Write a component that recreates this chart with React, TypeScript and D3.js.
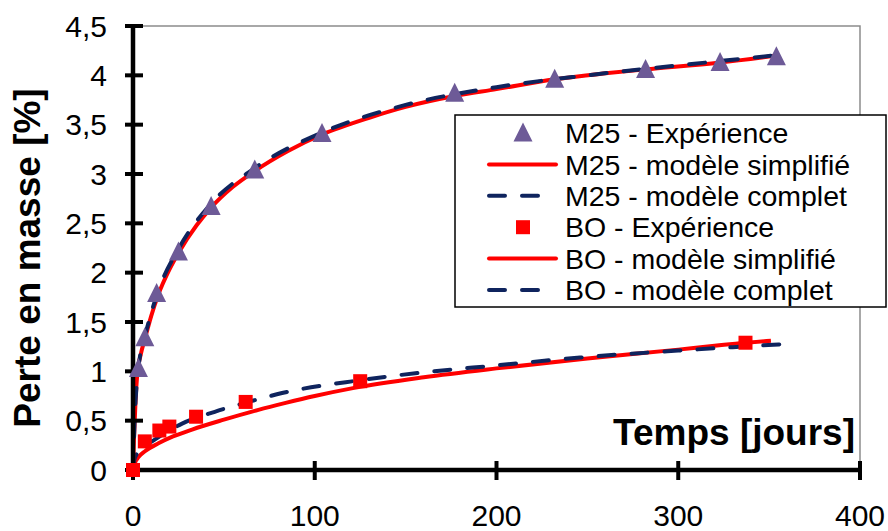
import React from "react";
import * as d3 from "d3";

const yTickValues = [0, 0.5, 1, 1.5, 2, 2.5, 3, 3.5, 4, 4.5];
const yTickLabels = ["0", "0,5", "1", "1,5", "2", "2,5", "3", "3,5", "4", "4,5"];
const xTickValues = [0, 100, 200, 300, 400];
const xTickLabels = ["0", "100", "200", "300", "400"];

// M25 experience (triangles)
const m25ExpT = [3, 6.5, 13, 25, 43, 67, 104, 177, 232, 282, 323, 354];
const m25ExpY = [1.03, 1.34, 1.79, 2.21, 2.67, 3.04, 3.41, 3.82, 3.96, 4.06, 4.13, 4.19];
// M25 simplified model (red solid)
const m25SimT = [0, 0.5, 1.4, 2.5, 4, 7, 10, 14, 20, 25, 35, 43, 55, 67, 85, 104, 130, 150, 177, 200, 232, 260, 282, 323, 354];
const m25SimY = [0, 0.3, 0.7, 1.0, 1.15, 1.36, 1.56, 1.78, 2.03, 2.2, 2.48, 2.66, 2.87, 3.03, 3.23, 3.4, 3.57, 3.68, 3.79, 3.86, 3.96, 4.02, 4.06, 4.13, 4.2];
// M25 complete model (navy dashed)
const m25ComT = [0, 1, 2, 4, 7, 14, 25, 43, 67, 104, 150, 200, 250, 300, 352];
const m25ComY = [0, 0.55, 0.86, 1.17, 1.39, 1.82, 2.24, 2.7, 3.06, 3.42, 3.7, 3.88, 4.0, 4.1, 4.2];
// BO experience (squares)
const boExpT = [0, 6.5, 14.5, 20, 34.7, 62, 125, 337];
const boExpY = [0, 0.29, 0.4, 0.44, 0.54, 0.69, 0.9, 1.29];
// BO simplified model (red solid)
const boSimT = [0, 1, 3, 6.6, 14, 22, 32.5, 50, 69, 84, 100, 121, 160, 200, 250, 300, 320, 351];
const boSimY = [0, 0.07, 0.13, 0.19, 0.27, 0.34, 0.41, 0.51, 0.61, 0.68, 0.75, 0.83, 0.94, 1.03, 1.13, 1.22, 1.26, 1.31];
// BO complete model (navy dashed)
const boComT = [0, 1, 5, 10.5, 27, 45, 65.5, 82, 125, 160, 200, 246, 300, 330, 362];
const boComY = [0, 0.12, 0.22, 0.29, 0.47, 0.59, 0.7, 0.78, 0.91, 0.99, 1.06, 1.14, 1.21, 1.245, 1.28];

const legendLabels = [
  "M25 - Expérience",
  "M25 - modèle simplifié",
  "M25 - modèle complet",
  "BO - Expérience",
  "BO - modèle simplifié",
  "BO - modèle complet",
];

const RED = "#FF0000";
const NAVY = "#0F245E";
const PURPLE = "#6D5A97";
const FONT = "'Liberation Sans', Arial, sans-serif";

export default function App() {
  const x = d3.scaleLinear().domain([0, 400]).range([133, 860]);
  const y = d3.scaleLinear().domain([0, 4.5]).range([470, 26]);
  const line = d3
    .line<[number, number]>()
    .x((d) => x(d[0]))
    .y((d) => y(d[1]))
    .curve(d3.curveMonotoneX);
  const zip = (a: number[], b: number[]) => a.map((v, i) => [v, b[i]] as [number, number]);

  const triPath = (cx: number, cy: number) => {
    const h = 19;
    const w = 19;
    return `M${cx},${cy - h * 0.55} L${cx + w / 2},${cy + h * 0.45} L${cx - w / 2},${cy + h * 0.45} Z`;
  };

  const legX = 455;
  const legY = 115;
  const legW = 431;
  const legH = 192;
  const rowY = (i: number) => 133 + i * 31.4;

  return (
    <svg
      width={888}
      height={531}
      style={{ position: "absolute", left: 0, top: 0, display: "block", background: "#fff" }}
      fontFamily={FONT}
    >
      <rect x={0} y={0} width={888} height={531} fill="#fff" />
      {/* plot frame */}
      <path d={`M${x(0)},${y(4.5)} H${x(400)} V${y(0)}`} fill="none" stroke="#8c8c8c" strokeWidth={1.5} />

      {/* lines */}
      <path d={line(zip(boSimT, boSimY)) || ""} fill="none" stroke={RED} strokeWidth={4} />
      <path d={line(zip(boComT, boComY)) || ""} fill="none" stroke={NAVY} strokeWidth={4} strokeDasharray="16 17" strokeLinecap="round" />
      <path d={line(zip(m25SimT, m25SimY)) || ""} fill="none" stroke={RED} strokeWidth={4} />
      <path d={line(zip(m25ComT, m25ComY)) || ""} fill="none" stroke={NAVY} strokeWidth={4} strokeDasharray="16 17" strokeLinecap="round" />

      {/* axes */}
      <line x1={x(0)} x2={x(0)} y1={y(4.5) - 2} y2={y(0) + 2} stroke="#000" strokeWidth={4.5} />
      <line x1={x(0) - 2} x2={x(400) + 2} y1={y(0)} y2={y(0)} stroke="#000" strokeWidth={4.5} />
      {yTickValues.map((v, i) => (
        <g key={"yt" + i}>
          <line x1={x(0) - 8} x2={x(0) + 10} y1={y(v)} y2={y(v)} stroke="#000" strokeWidth={4} />
          <text x={107} y={y(v)} dy="0.36em" textAnchor="end" fontSize={30} fill="#000">
            {yTickLabels[i]}
          </text>
        </g>
      ))}
      {xTickValues.map((v, i) => (
        <g key={"xt" + i}>
          <line x1={x(v)} x2={x(v)} y1={y(0) - 9} y2={y(0) + 10} stroke="#000" strokeWidth={4} />
          <text x={x(v)} y={526} textAnchor="middle" fontSize={30} fill="#000">
            {xTickLabels[i]}
          </text>
        </g>
      ))}

      {/* markers */}
      {m25ExpT.map((t, i) => (
        <path key={"m" + i} d={triPath(x(t), y(m25ExpY[i]))} fill={PURPLE} />
      ))}
      {boExpT.map((t, i) => (
        <rect key={"b" + i} x={x(t) - 7} y={y(boExpY[i]) - 7} width={14} height={14} fill={RED} />
      ))}

      {/* axis titles */}
      <text x={855} y={445} textAnchor="end" fontSize={37} fontWeight="bold" fill="#000">
        Temps [jours]
      </text>
      <text transform="rotate(-90)" x={-258} y={40} textAnchor="middle" fontSize={37} fontWeight="bold" fill="#000">
        Perte en masse [%]
      </text>

      {/* legend */}
      <rect x={legX} y={legY} width={legW} height={legH} fill="#fff" stroke="#000" strokeWidth={1.5} />
      {legendLabels.map((lab, i) => {
        const cy = rowY(i);
        let sym: React.ReactNode = null;
        if (i === 0) sym = <path d={triPath(523, cy)} fill={PURPLE} />;
        else if (i === 3) sym = <rect x={516} y={cy - 7} width={14} height={14} fill={RED} />;
        else if (i === 1 || i === 4) sym = <line x1={489} x2={556} y1={cy} y2={cy} stroke={RED} strokeWidth={4} strokeLinecap="round" />;
        else sym = <line x1={489} x2={538} y1={cy} y2={cy} stroke={NAVY} strokeWidth={4} strokeDasharray="16 17" strokeLinecap="round" />;
        return (
          <g key={"l" + i}>
            {sym}
            <text x={565} y={cy} dy="0.36em" fontSize={28.5} fill="#000">
              {lab}
            </text>
          </g>
        );
      })}
    </svg>
  );
}
